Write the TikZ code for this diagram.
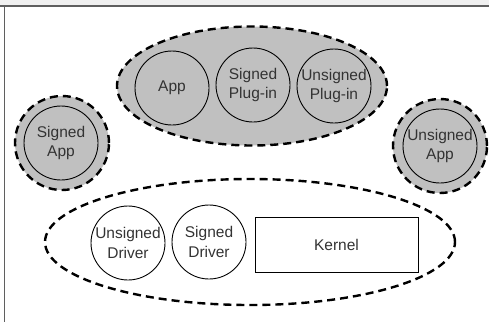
\documentclass[tikz,border=0pt]{standalone}
\usepackage{fontspec}
\setmainfont{Liberation Sans}
\usetikzlibrary{shapes.geometric}
\definecolor{zonefill}{RGB}{192,192,192}
\definecolor{framegray}{RGB}{95,95,95}
\tikzset{
  zone/.style={draw=black, line width=2.4pt, dash pattern=on 8pt off 5pt},
  shaded/.style={zone, fill=zonefill},
  unit/.style={circle, draw=black, line width=0.9pt, minimum size=74pt, inner sep=0pt,
    align=center, font=\fontsize{15.5}{19.5}\selectfont, text=black!80},
  kernelbox/.style={rectangle, draw=black, line width=0.9pt, minimum width=163pt,
    minimum height=55pt, font=\fontsize{15.5}{19.5}\selectfont, text=black!80},
}
\begin{document}
\begin{tikzpicture}[x=1pt, y=-1pt]
  \useasboundingbox (0,0) rectangle (489,322);
  % page frame
  \fill[black!6] (0,0) rectangle (489,5);
  \draw[framegray, line width=1.5pt] (0,6) -- (489,6);
  \draw[framegray, line width=1.5pt] (4.5,6) -- (4.5,322);

  % user-level group
  \node[shaded, ellipse, minimum width=270pt, minimum height=119pt, inner sep=0pt] (userzone) at (252,86) {};
  \node[unit] (app) at (172,88) {App};
  \node[unit] (splug) at (253,85) {Signed\\Plug-in};
  \node[unit] (uplug) at (334,86) {Unsigned\\Plug-in};

  % standalone applications
  \node[shaded, circle, minimum size=94pt, inner sep=0pt] (szone) at (62,143) {};
  \node[unit] (sapp) at (61,143) {Signed\\App};
  \node[shaded, circle, minimum size=94pt, inner sep=0pt] (uzone) at (440,146) {};
  \node[unit] (uapp) at (440,146) {Unsigned\\App};

  % kernel-level group
  \node[zone, ellipse, minimum width=410pt, minimum height=126pt, inner sep=0pt] (kzone) at (250,242) {};
  \node[unit] (udrv) at (128,243) {Unsigned\\Driver};
  \node[unit] (sdrv) at (209,242) {Signed\\Driver};
  \node[kernelbox] (kernel) at (336.5,244.5) {Kernel};
\end{tikzpicture}
\end{document}
